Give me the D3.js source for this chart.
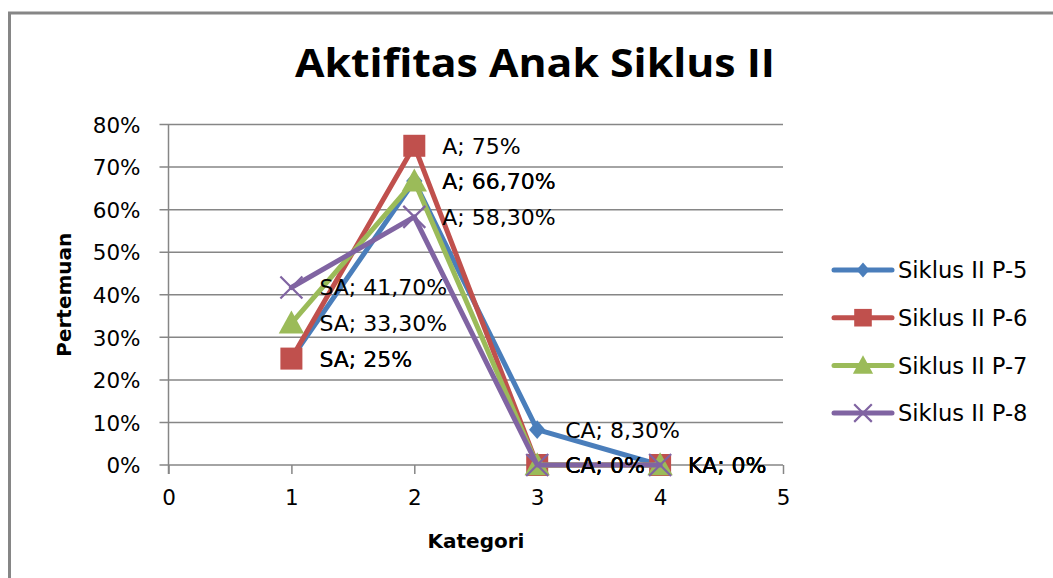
<!DOCTYPE html>
<html><head><meta charset="utf-8">
<script src="https://cdn.jsdelivr.net/npm/d3@7"></script>
<style>body{margin:0;background:#fff}svg{display:block}</style>
</head><body>
<svg id="c" width="1053" height="578"></svg>
<script>
const categories = [1, 2, 3, 4];
const catCodes = ["SA", "A", "CA", "KA"];
const seriesNames = ["Siklus II P-5", "Siklus II P-6", "Siklus II P-7", "Siklus II P-8"];
const p5 = [25, 66.7, 8.3, 0];
const p6 = [25, 75, 0, 0];
const p7 = [33.3, 66.7, 0, 0];
const p8 = [41.7, 58.3, 0, 0];
const xTicks = [0, 1, 2, 3, 4, 5];
const yTicks = [0, 10, 20, 30, 40, 50, 60, 70, 80];
const colors = ["#4A7EBB", "#C0504D", "#9BBB59", "#8064A2"];
const markers = ["diamond", "square", "triangle", "x"];
const seriesValues = [p5, p6, p7, p8];

const svg = d3.select("#c");
const FONT = "'DejaVu Sans', Verdana, sans-serif";
const GRID = "#868686";

// outer frame
svg.append("rect").attr("x", 9.5).attr("y", 13).attr("width", 1100).attr("height", 700)
  .attr("fill", "none").attr("stroke", GRID).attr("stroke-width", 3);

const x = d3.scaleLinear().domain([0, 5]).range([168.5, 783]);
const y = d3.scaleLinear().domain([0, 80]).range([465, 124.5]);

// title
svg.append("text").attr("x", 535).attr("y", 77).attr("text-anchor", "middle")
  .attr("font-family", "'Open Sans', sans-serif").attr("font-weight", 700)
  .attr("font-size", 40).attr("textLength", 480).attr("lengthAdjust", "spacingAndGlyphs")
  .text("Aktifitas Anak Siklus II");

// gridlines
svg.append("g").selectAll("line").data(yTicks).join("line")
  .attr("x1", x(0) - 9).attr("x2", x(5)).attr("y1", d => y(d)).attr("y2", d => y(d))
  .attr("stroke", GRID).attr("stroke-width", 1.5);

// y axis
const yAxis = d3.axisLeft(y).tickValues(yTicks).tickFormat(d => d + "%").tickSize(0).tickPadding(28);
const gy = svg.append("g").attr("transform", `translate(${x(0)},0)`).call(yAxis);
gy.select(".domain").remove();
gy.selectAll("text").attr("font-family", FONT).attr("font-size", 21.5).attr("fill", "#000").attr("dy", "0.36em");
svg.append("line").attr("x1", x(0)).attr("x2", x(0)).attr("y1", y(80)).attr("y2", y(0) + 9)
  .attr("stroke", GRID).attr("stroke-width", 1.5);

// x axis
const xAxis = d3.axisBottom(x).tickValues(xTicks).tickFormat(d3.format("d")).tickSize(9).tickPadding(16);
const gx = svg.append("g").attr("transform", `translate(0,${y(0)})`).call(xAxis);
gx.select(".domain").remove();
gx.selectAll(".tick line").attr("stroke", GRID).attr("stroke-width", 1.5);
gx.selectAll("text").attr("font-family", FONT).attr("font-size", 21.5).attr("fill", "#000");

// axis titles
svg.append("text").attr("transform", `translate(71,${(y(0) + y(80)) / 2}) rotate(-90)`)
  .attr("text-anchor", "middle").attr("font-family", FONT).attr("font-weight", "bold")
  .attr("font-size", 20).text("Pertemuan");
svg.append("text").attr("x", 476).attr("y", 548).attr("text-anchor", "middle")
  .attr("font-family", FONT).attr("font-weight", "bold").attr("font-size", 20).text("Kategori");

function drawMarker(g, type, color, cx, cy, s) {
  if (type === "diamond") {
    g.append("path").attr("d", `M${cx},${cy - s * 0.55}L${cx + s * 0.48},${cy}L${cx},${cy + s * 0.55}L${cx - s * 0.48},${cy}Z`).attr("fill", color);
  } else if (type === "square") {
    g.append("rect").attr("x", cx - s * 0.5).attr("y", cy - s * 0.5).attr("width", s).attr("height", s).attr("fill", color);
  } else if (type === "triangle") {
    g.append("path").attr("d", `M${cx},${cy - s * 0.55}L${cx + s * 0.55},${cy + s * 0.45}L${cx - s * 0.55},${cy + s * 0.45}Z`).attr("fill", color);
  } else {
    const h = s * 0.5;
    g.append("path").attr("d", `M${cx - h},${cy - h}L${cx + h},${cy + h}M${cx - h},${cy + h}L${cx + h},${cy - h}`)
      .attr("stroke", color).attr("stroke-width", 2.2).attr("fill", "none");
  }
}
const markerSize = [17, 22, 23, 22];

const line = d3.line().x((d, i) => x(categories[i])).y(d => y(d));
seriesValues.forEach((vals, si) => {
  const g = svg.append("g");
  g.append("path").datum(vals).attr("d", line).attr("fill", "none")
    .attr("stroke", colors[si]).attr("stroke-width", 5).attr("stroke-linejoin", "round").attr("stroke-linecap", "round");
  vals.forEach((v, i) => drawMarker(g, markers[si], colors[si], x(categories[i]), y(v), markerSize[si]));
});

// data labels
const fmt = v => (v === Math.round(v) ? String(v) : v.toFixed(2).replace(".", ",")) + "%";
seriesValues.forEach((vals, si) => {
  svg.append("g").selectAll("text").data(vals).join("text")
    .attr("x", (d, i) => x(categories[i]) + 28).attr("y", d => y(d)).attr("dy", "0.36em")
    .attr("font-family", FONT).attr("font-size", 22).attr("fill", "#000")
    .text((d, i) => catCodes[i] + "; " + fmt(d));
});

// legend
const leg = svg.append("g");
seriesNames.forEach((name, si) => {
  const ly = 270 + si * 47.7;
  leg.append("line").attr("x1", 834).attr("x2", 892).attr("y1", ly).attr("y2", ly)
    .attr("stroke", colors[si]).attr("stroke-width", 5).attr("stroke-linecap", "round");
  drawMarker(leg, markers[si], colors[si], 863, ly, markerSize[si] * 0.8);
  leg.append("text").attr("x", 898).attr("y", ly).attr("dy", "0.36em")
    .attr("font-family", FONT).attr("font-size", 22.6).attr("fill", "#000").text(name);
});
</script>
</body></html>
